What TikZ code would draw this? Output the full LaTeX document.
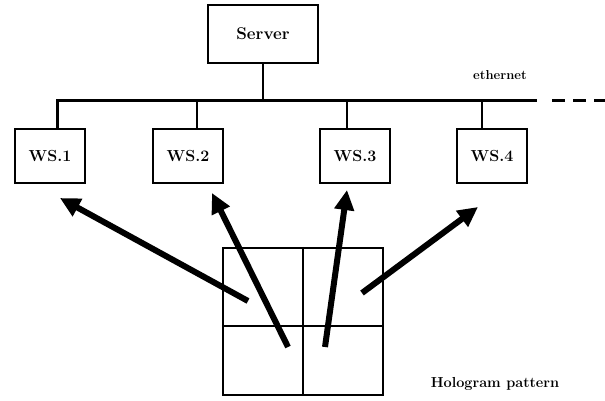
\documentclass[tikz,border=0pt]{standalone}
\usepackage{fontspec}
\usetikzlibrary{arrows.meta}
\tikzset{
  box/.style={draw, line width=2.2pt, minimum width=70pt, minimum height=54pt, inner sep=0pt,
    font=\fontsize{16}{19}\selectfont\bfseries},
  wire/.style={line width=2.4pt},
  bus/.style={line width=3pt},
  holo/.style={line width=2.4pt},
  beam/.style={line width=6pt, -{Triangle[length=20pt,width=19pt]}},
  lbl/.style={font=\fontsize{14.5}{17}\selectfont\bfseries}
}
\begin{document}
\begin{tikzpicture}[x=1pt,y=-1pt]
\useasboundingbox (0,0) rectangle (605,401);
% server
\node[box, minimum width=110pt, minimum height=58pt, font=\fontsize{17}{20}\selectfont\bfseries] (server) at (263,34) {Server};
% workstations
\node[box] (ws1) at (50,156) {WS.1};
\node[box] (ws2) at (188,156) {WS.2};
\node[box] (ws3) at (355,156) {WS.3};
\node[box] (ws4) at (492,156) {WS.4};
% bus
\coordinate (d1) at (57,101);
\coordinate (d2) at (197,101);
\coordinate (d3) at (347,101);
\coordinate (d4) at (482,101);
\coordinate (be) at (537,101);
\coordinate (ds) at (552,101);
\coordinate (de) at (605,101);
\draw[bus] (d1 |- ws1.north) -- (d1) -- (be);
\draw[bus, dash pattern=on 13pt off 8pt] (ds) -- (de);
\draw[wire] (server.south) -- (server.south |- d1);
\draw[wire] (d2) -- (d2 |- ws2.north);
\draw[wire] (d3) -- (d3 |- ws3.north);
\draw[wire] (d4) -- (d4 |- ws4.north);
\node[lbl, font=\fontsize{13}{15}\selectfont\bfseries] (eth) at (500,75) {ethernet};
% hologram pattern
\node[draw, holo, minimum width=160pt, minimum height=147pt, inner sep=0pt] (holo) at (303,321.5) {};
\coordinate (hm) at (303,326);
\draw[holo] (holo.north) -- (holo.south);
\draw[holo] (holo.west |- hm) -- (holo.east |- hm);
\node[lbl] (hlabel) at (495,384) {Hologram pattern};
% beams
\coordinate (t1) at (248,301);
\coordinate (h1) at (60,198);
\coordinate (t2) at (288,347);
\coordinate (h2) at (212,193);
\coordinate (t3) at (325,347);
\coordinate (h3) at (347,190);
\coordinate (t4) at (362,293);
\coordinate (h4) at (478,207);
\draw[beam] (t1) -- (h1);
\draw[beam] (t2) -- (h2);
\draw[beam] (t3) -- (h3);
\draw[beam] (t4) -- (h4);
\end{tikzpicture}
\end{document}
